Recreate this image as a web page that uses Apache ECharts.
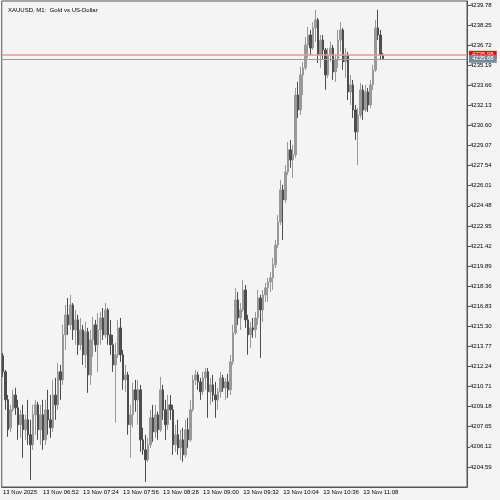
<!DOCTYPE html>
<html>
<head>
<meta charset="utf-8">
<script src="https://cdn.jsdelivr.net/npm/echarts@6/dist/echarts.min.js"></script>
<style>
  html, body { margin: 0; background: #f4f4f4; }
  #chart { width: 500px; height: 500px; }
</style>
</head>
<body>
<div id="chart"></div>
<script>
// XAUUSD M1 蜡烛图，MetaTrader 风格（灰色蜡烛，右侧价格轴，Ask/Bid 线）
const TITLE = 'XAUUSD, M1:  Gold vs US-Dollar';
const START_TIME = [6, 20];     // 第一根 K 线时间 06:20，每根 2 分钟
const STEP_MIN = 2;
const TOTAL_SLOTS = 186;        // 含右侧留白
const X_LABELS = ['13 Nov 2025', '13 Nov 06:52', '13 Nov 07:24', '13 Nov 07:56', '13 Nov 08:28',
  '13 Nov 09:00', '13 Nov 09:32', '13 Nov 10:04', '13 Nov 10:36', '13 Nov 11:08'];
const LABEL_EVERY = 16;

const Y_TICKS = [4204.59, 4206.12, 4207.65, 4209.18, 4210.71, 4212.24, 4213.77, 4215.30,
  4216.83, 4218.36, 4219.89, 4221.42, 4222.95, 4224.48, 4226.01, 4227.54, 4229.07, 4230.60,
  4232.13, 4233.66, 4235.19, 4236.72, 4238.25, 4239.78];
const Y_MIN = 4203.06;
const Y_MAX = 4240.08;
const ASK = 4235.98;
const BID = 4235.68;

const opens = [
  4213.05, 4211.83, 4209.70, 4207.57, 4208.94, 4210.07, 4209.09, 4207.80, 4208.56, 4207.42,
  4208.18, 4207.04, 4206.27, 4208.56, 4209.32, 4207.42, 4208.56, 4206.65, 4208.94, 4208.18,
  4207.57, 4210.07, 4209.32, 4211.83, 4211.22, 4214.65, 4216.17, 4215.41, 4216.93, 4215.03,
  4215.79, 4213.89, 4215.03, 4213.13, 4214.88, 4211.60, 4214.27, 4215.41, 4213.89, 4215.03,
  4215.94, 4214.65, 4216.55, 4214.65, 4213.89, 4212.36, 4213.13, 4215.18, 4213.13, 4211.22,
  4211.60, 4207.80, 4208.56, 4210.46, 4209.70, 4210.46, 4206.65, 4205.89, 4205.13, 4206.27,
  4208.33, 4207.26, 4208.56, 4207.42, 4210.46, 4208.94, 4207.80, 4209.32, 4208.94, 4206.27,
  4207.04, 4206.04, 4206.65, 4205.51, 4207.42, 4206.65, 4208.94, 4211.22, 4211.60, 4211.07,
  4210.31, 4211.37, 4211.83, 4210.31, 4210.84, 4210.07, 4209.70, 4210.31, 4211.37, 4210.61,
  4211.07, 4210.46, 4212.59, 4214.80, 4217.31, 4215.94, 4216.55, 4218.07, 4215.79, 4214.65,
  4215.18, 4215.03, 4215.94, 4217.46, 4216.55, 4217.69, 4218.23, 4218.68, 4218.99, 4219.98,
  4221.50, 4223.25, 4225.69, 4224.93, 4227.06, 4228.74, 4227.97, 4228.36, 4232.92, 4231.78,
  4234.45, 4234.98, 4236.73, 4237.49, 4236.50, 4238.03, 4238.64, 4235.97, 4237.11, 4236.35,
  4234.45, 4235.97, 4236.50, 4234.68, 4235.59, 4237.11, 4237.88, 4235.44, 4235.97, 4233.15,
  4233.69, 4231.78, 4230.11, 4231.40, 4233.31, 4231.78, 4233.15, 4232.16, 4233.69, 4234.83,
  4238.03, 4237.49, 4235.97
];
const closes = [
  4211.83, 4209.70, 4207.42, 4208.94, 4210.07, 4209.09, 4207.80, 4208.56, 4207.42, 4208.18,
  4207.04, 4206.27, 4208.56, 4209.32, 4207.42, 4208.56, 4206.65, 4208.94, 4208.18, 4207.57,
  4210.07, 4209.32, 4211.83, 4211.22, 4214.65, 4216.17, 4215.41, 4216.93, 4215.03, 4215.79,
  4213.89, 4215.03, 4213.13, 4214.88, 4211.60, 4214.27, 4215.41, 4213.89, 4215.03, 4215.94,
  4214.65, 4216.55, 4214.65, 4213.89, 4212.36, 4213.13, 4215.18, 4213.13, 4211.22, 4211.60,
  4207.80, 4208.56, 4210.46, 4209.70, 4210.46, 4206.65, 4205.89, 4205.13, 4206.27, 4208.33,
  4207.26, 4208.56, 4207.42, 4210.46, 4208.94, 4207.80, 4209.32, 4208.94, 4206.27, 4207.04,
  4206.04, 4206.65, 4205.51, 4207.42, 4206.65, 4208.94, 4211.22, 4211.60, 4211.07, 4210.31,
  4211.37, 4211.83, 4210.31, 4210.84, 4210.07, 4209.70, 4210.31, 4211.37, 4210.61, 4211.07,
  4210.46, 4212.59, 4214.80, 4217.31, 4215.94, 4216.55, 4218.07, 4215.79, 4214.65, 4215.18,
  4215.03, 4215.94, 4217.46, 4216.55, 4217.69, 4218.23, 4218.68, 4218.99, 4219.98, 4221.50,
  4223.25, 4225.69, 4224.93, 4227.06, 4228.74, 4227.97, 4228.36, 4232.92, 4231.78, 4234.45,
  4234.98, 4236.73, 4237.49, 4236.50, 4238.03, 4238.64, 4235.97, 4237.11, 4236.35, 4234.45,
  4235.97, 4236.50, 4234.68, 4235.59, 4237.11, 4237.88, 4235.44, 4235.97, 4233.15, 4233.69,
  4231.78, 4230.11, 4231.40, 4233.31, 4231.78, 4233.15, 4232.16, 4233.69, 4234.83, 4238.03,
  4237.49, 4235.97, 4235.68
];
const lows = [
  4211.45, 4208.94, 4206.88, 4207.26, 4208.79, 4208.56, 4206.65, 4206.81, 4205.28, 4206.65,
  4206.27, 4203.60, 4205.89, 4207.04, 4206.65, 4206.27, 4205.89, 4206.27, 4207.04, 4206.81,
  4207.26, 4208.18, 4208.94, 4209.70, 4210.84, 4213.50, 4214.65, 4215.03, 4214.27, 4213.89,
  4213.13, 4213.50, 4212.36, 4212.13, 4210.23, 4210.84, 4212.97, 4213.35, 4211.83, 4213.89,
  4214.27, 4214.42, 4213.89, 4213.13, 4211.83, 4207.95, 4212.89, 4212.59, 4210.46, 4210.31,
  4207.04, 4205.28, 4207.57, 4208.79, 4207.80, 4205.74, 4205.51, 4203.45, 4204.97, 4206.04,
  4206.50, 4206.81, 4206.65, 4207.26, 4208.18, 4206.65, 4207.42, 4208.18, 4205.51, 4205.74,
  4205.51, 4205.13, 4204.97, 4205.28, 4206.04, 4206.50, 4208.79, 4210.84, 4210.46, 4209.70,
  4210.07, 4210.46, 4208.33, 4209.32, 4209.55, 4208.33, 4208.94, 4209.85, 4210.31, 4209.70,
  4209.85, 4210.07, 4212.36, 4214.65, 4215.41, 4215.03, 4216.40, 4215.18, 4213.13, 4213.66,
  4214.42, 4214.42, 4215.41, 4212.89, 4215.64, 4217.16, 4217.16, 4217.92, 4218.07, 4219.75,
  4221.27, 4223.02, 4221.88, 4224.70, 4226.83, 4227.37, 4226.60, 4228.13, 4231.17, 4231.40,
  4232.92, 4234.83, 4235.74, 4235.97, 4236.35, 4236.96, 4235.36, 4234.98, 4235.59, 4233.31,
  4234.22, 4235.44, 4234.07, 4233.92, 4234.98, 4236.20, 4234.83, 4234.22, 4232.54, 4232.16,
  4231.17, 4229.50, 4227.59, 4231.17, 4231.02, 4231.63, 4231.63, 4231.93, 4233.31, 4234.68,
  4237.11, 4235.59, 4235.60
];
const highs = [
  4213.27, 4211.98, 4210.07, 4209.32, 4210.46, 4210.61, 4209.70, 4208.94, 4209.32, 4208.56,
  4209.70, 4208.18, 4209.32, 4209.70, 4209.55, 4209.32, 4209.70, 4209.70, 4210.46, 4210.07,
  4211.22, 4211.37, 4212.51, 4212.36, 4215.41, 4216.93, 4217.46, 4217.69, 4217.08, 4216.55,
  4216.17, 4215.94, 4215.41, 4215.64, 4215.18, 4215.03, 4216.02, 4215.79, 4216.32, 4216.40,
  4216.70, 4217.08, 4216.70, 4215.79, 4214.65, 4214.05, 4215.79, 4215.94, 4213.50, 4212.36,
  4211.83, 4209.32, 4211.00, 4211.22, 4211.22, 4210.84, 4207.57, 4207.04, 4206.81, 4208.94,
  4209.32, 4209.32, 4208.79, 4211.45, 4210.84, 4209.70, 4210.07, 4210.07, 4209.32, 4207.80,
  4208.18, 4207.42, 4207.57, 4208.18, 4208.33, 4209.70, 4211.60, 4211.98, 4211.83, 4211.37,
  4211.83, 4212.13, 4212.13, 4211.37, 4211.60, 4211.07, 4210.61, 4211.83, 4211.60, 4211.37,
  4211.68, 4213.13, 4215.41, 4218.23, 4217.92, 4217.08, 4218.83, 4218.45, 4216.17, 4215.64,
  4215.94, 4216.40, 4218.07, 4217.69, 4218.07, 4218.61, 4218.99, 4219.44, 4220.51, 4221.88,
  4223.78, 4226.45, 4226.07, 4227.59, 4229.35, 4229.50, 4229.12, 4233.46, 4233.92, 4235.06,
  4235.44, 4237.34, 4238.10, 4237.88, 4238.48, 4239.40, 4238.79, 4237.49, 4237.49, 4236.50,
  4236.50, 4236.96, 4236.73, 4235.97, 4237.88, 4238.48, 4238.03, 4236.50, 4236.20, 4234.45,
  4234.07, 4232.16, 4231.93, 4233.84, 4233.69, 4233.69, 4233.46, 4234.07, 4235.21, 4238.64,
  4239.40, 4237.88, 4236.12
];

const FONT = 'Liberation Sans';
const INK = '#000';
const FRAME = '#555';

// 时间类目（含右侧空白槽位）
const categories = [];
for (let i = 0; i < TOTAL_SLOTS; i++) {
  const m = START_TIME[0] * 60 + START_TIME[1] + i * STEP_MIN;
  categories.push(String(Math.floor(m / 60)).padStart(2, '0') + ':' + String(m % 60).padStart(2, '0'));
}
const candles = opens.map((o, i) => [o, closes[i], lows[i], highs[i]]);
const showX = (i) => i % LABEL_EVERY === 0 && i / LABEL_EVERY < X_LABELS.length;

// 价格线：用一个空 line 系列挂 markLine，避免被蜡烛颜色覆盖
function priceLine(name, value, lineColor, lineWidth, boxColor) {
  return {
    name, type: 'line', data: [], silent: true, z: 3,
    markLine: {
      silent: true, symbol: 'none', animation: false,
      lineStyle: { color: lineColor, width: lineWidth, type: 'solid', opacity: 1 },
      label: {
        position: 'end', distance: 2, formatter: value.toFixed(2),
        backgroundColor: boxColor, color: '#fff', fontSize: 6, fontFamily: FONT, padding: [1, 3],
      },
      emphasis: { disabled: true },
      data: [{ yAxis: value }],
    },
  };
}

const chart = echarts.init(document.getElementById('chart'), null, { renderer: 'canvas' });
chart.setOption({
  backgroundColor: '#f4f4f4',
  animation: false,
  title: {
    text: TITLE, left: 3, top: 2,
    textStyle: { fontSize: 6, fontWeight: 'normal', color: INK, fontFamily: FONT },
  },
  grid: { left: 1, right: 33, top: 1, bottom: 13, show: true, borderColor: FRAME, borderWidth: 1 },
  xAxis: {
    type: 'category',
    data: categories,
    boundaryGap: true,
    axisLine: { lineStyle: { color: FRAME } },
    axisTick: { interval: (i) => showX(i), length: 4, lineStyle: { color: FRAME } },
    axisLabel: {
      interval: (i) => showX(i),
      formatter: (v, i) => X_LABELS[i / LABEL_EVERY] || '',
      align: 'left', margin: 2, fontSize: 6, color: INK, fontFamily: FONT,
    },
    splitLine: { show: false },
  },
  yAxis: {
    type: 'value',
    position: 'right',
    min: Y_MIN,
    max: Y_MAX,
    scale: true,
    axisLine: { show: true, lineStyle: { color: FRAME } },
    axisTick: { show: true, length: 3, customValues: Y_TICKS, lineStyle: { color: FRAME } },
    axisLabel: {
      customValues: Y_TICKS, formatter: (v) => v.toFixed(2),
      margin: 3, fontSize: 6, color: INK, fontFamily: FONT,
    },
    splitLine: { show: false },
  },
  series: [
    {
      type: 'candlestick',
      data: candles,
      barWidth: 2,
      itemStyle: {
        color: '#999999', color0: '#4d4d4d',
        borderColor: '#999999', borderColor0: '#4d4d4d', borderWidth: 1,
      },
    },
    priceLine('Ask', ASK, '#f29494', 1.5, '#ff0000'),
    priceLine('Bid', BID, '#9a9a9a', 1, '#778899'),
  ],
});
</script>
</body>
</html>
